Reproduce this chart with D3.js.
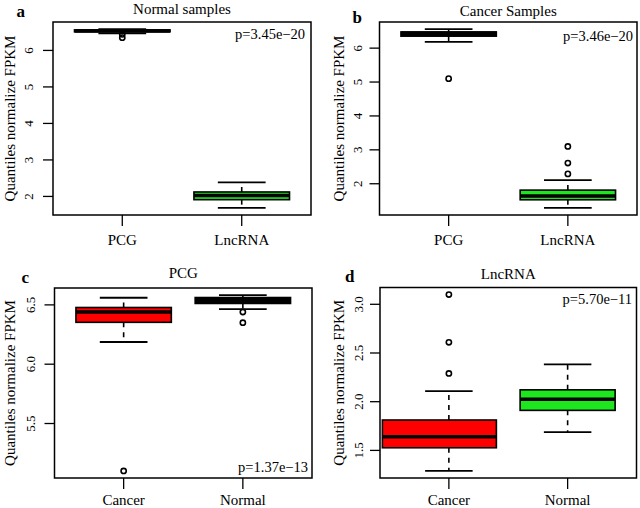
<!DOCTYPE html>
<html><head><meta charset="utf-8">
<script src="https://cdn.jsdelivr.net/npm/d3@7/dist/d3.min.js"></script>
<style>body{margin:0;background:#fff}svg{display:block}text{font-family:"Liberation Serif","Times New Roman",serif;fill:#000}</style>
</head><body><svg id="c" width="640" height="508"></svg>
<script>
// ---- data (boxplot stats: [lowWhisker, Q1, median, Q3, highWhisker]) ----
const pcgNormal = [6.465, 6.512, 6.535, 6.562, 6.583];
const pcgCancer = [6.187, 6.353, 6.440, 6.478, 6.560];
const lncNormal = [1.687, 1.911, 2.025, 2.122, 2.384];
const lncCancer = [1.289, 1.527, 1.640, 1.812, 2.108];
const pcgNormalOut = [6.44, 6.35];
const pcgCancerOut = [5.10];
const lncNormalOut = [];
const lncCancerOut = [3.10, 2.61, 2.29];

const groupsAB = ["PCG", "LncRNA"];
const groupsCD = ["Cancer", "Normal"];
const ticksAB = [2, 3, 4, 5, 6];
const ticksC = [5.5, 6.0, 6.5];
const ticksD = [1.5, 2.0, 2.5, 3.0];
const titles = ["Normal samples", "Cancer Samples", "PCG", "LncRNA"];
const letters = ["a", "b", "c", "d"];
const pValues = ["p=3.45e\u221220", "p=3.46e\u221220", "p=1.37e\u221213", "p=5.70e\u221211"];
const yTitle = "Quantiles normalize FPKM";

const RED = "#ff0000", GREEN = "#1ee61e", BLACK = "#000000";

const panels = [
  {frame:[53,22,311,215], groups:groupsAB, stats:[pcgNormal,lncNormal], outs:[pcgNormalOut,lncNormalOut],
   fills:[BLACK,GREEN], ticks:ticksAB, fmt:d3.format("d"), title:titles[0], titleY:14, letter:letters[0], lx:16.5, ly:17,
   p:pValues[0], px:305, py:38.5, ytx:10, tlx:28.5, xly:245},
  {frame:[379.5,22,637,215], groups:groupsAB, stats:[pcgCancer,lncCancer], outs:[pcgCancerOut,lncCancerOut],
   fills:[BLACK,GREEN], ticks:ticksAB, fmt:d3.format("d"), title:titles[1], titleY:16, letter:letters[1], lx:352.5, ly:23,
   p:pValues[1], px:633, py:40.5, ytx:338.5, tlx:357.5, xly:245},
  {frame:[54.5,288,312,478], groups:groupsCD, stats:[pcgCancer,pcgNormal], outs:[pcgCancerOut,pcgNormalOut],
   fills:[RED,BLACK], ticks:ticksC, fmt:d3.format(".1f"), title:titles[2], titleY:278, letter:letters[2], lx:21.5, ly:283,
   p:pValues[2], px:308, py:472, ytx:10, tlx:30, xly:505},
  {frame:[380,287.5,636.5,478], groups:groupsCD, stats:[lncCancer,lncNormal], outs:[lncCancerOut,lncNormalOut],
   fills:[RED,GREEN], ticks:ticksD, fmt:d3.format(".1f"), title:titles[3], titleY:279, letter:letters[3], lx:345, ly:281.5,
   p:pValues[3], px:632, py:304, ytx:338.5, tlx:358, xly:505,
   spans:[[0.44,1.40],null]}
];

const svg = d3.select("#c");

panels.forEach(P => {
  const [x0,y0,x1,y1] = P.frame;
  const g = svg.append("g");
  const all = P.stats.flat().concat(P.outs.flat());
  const lo = d3.min(all), hi = d3.max(all), pad = (hi-lo)*0.04;
  const y = d3.scaleLinear().domain([lo-pad, hi+pad]).range([y1, y0]);
  const n = P.groups.length;
  const x = d3.scaleLinear().domain([0.5-0.04*n, n+0.5+0.04*n]).range([x0, x1]);
  const bw = 0.8;

  P.stats.forEach((s, i) => {
    const c = i+1;
    const cx = x(c);
    const span = (P.spans && P.spans[i]) ? P.spans[i] : [c-bw/2, c+bw/2];
    const capL = x(c-bw/4), capR = x(c+bw/4);
    // whiskers
    g.append("line").attr("x1",cx).attr("x2",cx).attr("y1",y(s[3])).attr("y2",y(s[4]))
      .attr("stroke","#000").attr("stroke-width",1.6).attr("stroke-dasharray","5,5");
    g.append("line").attr("x1",cx).attr("x2",cx).attr("y1",y(s[1])).attr("y2",y(s[0]))
      .attr("stroke","#000").attr("stroke-width",1.6).attr("stroke-dasharray","5,5");
    [s[0], s[4]].forEach(v => g.append("line").attr("x1",capL).attr("x2",capR).attr("y1",y(v)).attr("y2",y(v))
      .attr("stroke","#000").attr("stroke-width",1.8));
    // box
    g.append("rect").attr("x",x(span[0])).attr("width",x(span[1])-x(span[0]))
      .attr("y",y(s[3])).attr("height",y(s[1])-y(s[3]))
      .attr("fill",P.fills[i]).attr("stroke","#000").attr("stroke-width",1.6);
    g.append("line").attr("x1",x(span[0])).attr("x2",x(span[1])).attr("y1",y(s[2])).attr("y2",y(s[2]))
      .attr("stroke","#000").attr("stroke-width",3.6);
    // outliers
    P.outs[i].forEach(v => g.append("circle").attr("cx",cx).attr("cy",y(v)).attr("r",2.6)
      .attr("fill","none").attr("stroke","#000").attr("stroke-width",1.6));
  });

  // frame
  g.append("rect").attr("x",x0).attr("y",y0).attr("width",x1-x0).attr("height",y1-y0)
    .attr("fill","none").attr("stroke","#000").attr("stroke-width",1.5);

  // y axis ticks
  P.ticks.forEach(t => {
    g.append("line").attr("x1",x0-10).attr("x2",x0).attr("y1",y(t)).attr("y2",y(t))
      .attr("stroke","#000").attr("stroke-width",1.3);
    g.append("text").attr("transform",`translate(${P.tlx},${y(t)}) rotate(-90)`)
      .attr("text-anchor","middle").attr("dy","0.35em").attr("font-size",13).text(P.fmt(t));
  });
  // x axis ticks
  P.groups.forEach((lab, i) => {
    const cx = x(i+1);
    g.append("line").attr("x1",cx).attr("x2",cx).attr("y1",y1).attr("y2",y1+11)
      .attr("stroke","#000").attr("stroke-width",1.3);
    g.append("text").attr("x",cx).attr("y",P.xly).attr("text-anchor","middle").attr("font-size",15).text(lab);
  });
  // titles
  g.append("text").attr("x",(x0+x1)/2).attr("y",P.titleY).attr("text-anchor","middle").attr("font-size",15).text(P.title);
  g.append("text").attr("x",P.lx).attr("y",P.ly).attr("font-size",17).attr("font-weight","bold").text(P.letter);
  g.append("text").attr("x",P.px).attr("y",P.py).attr("text-anchor","end").attr("font-size",14.5).text(P.p);
  g.append("text").attr("transform",`translate(${P.ytx},${(y0+y1)/2}) rotate(-90)`)
    .attr("text-anchor","middle").attr("dy","0.35em").attr("font-size",15).text(yTitle);
});
</script></body></html>
